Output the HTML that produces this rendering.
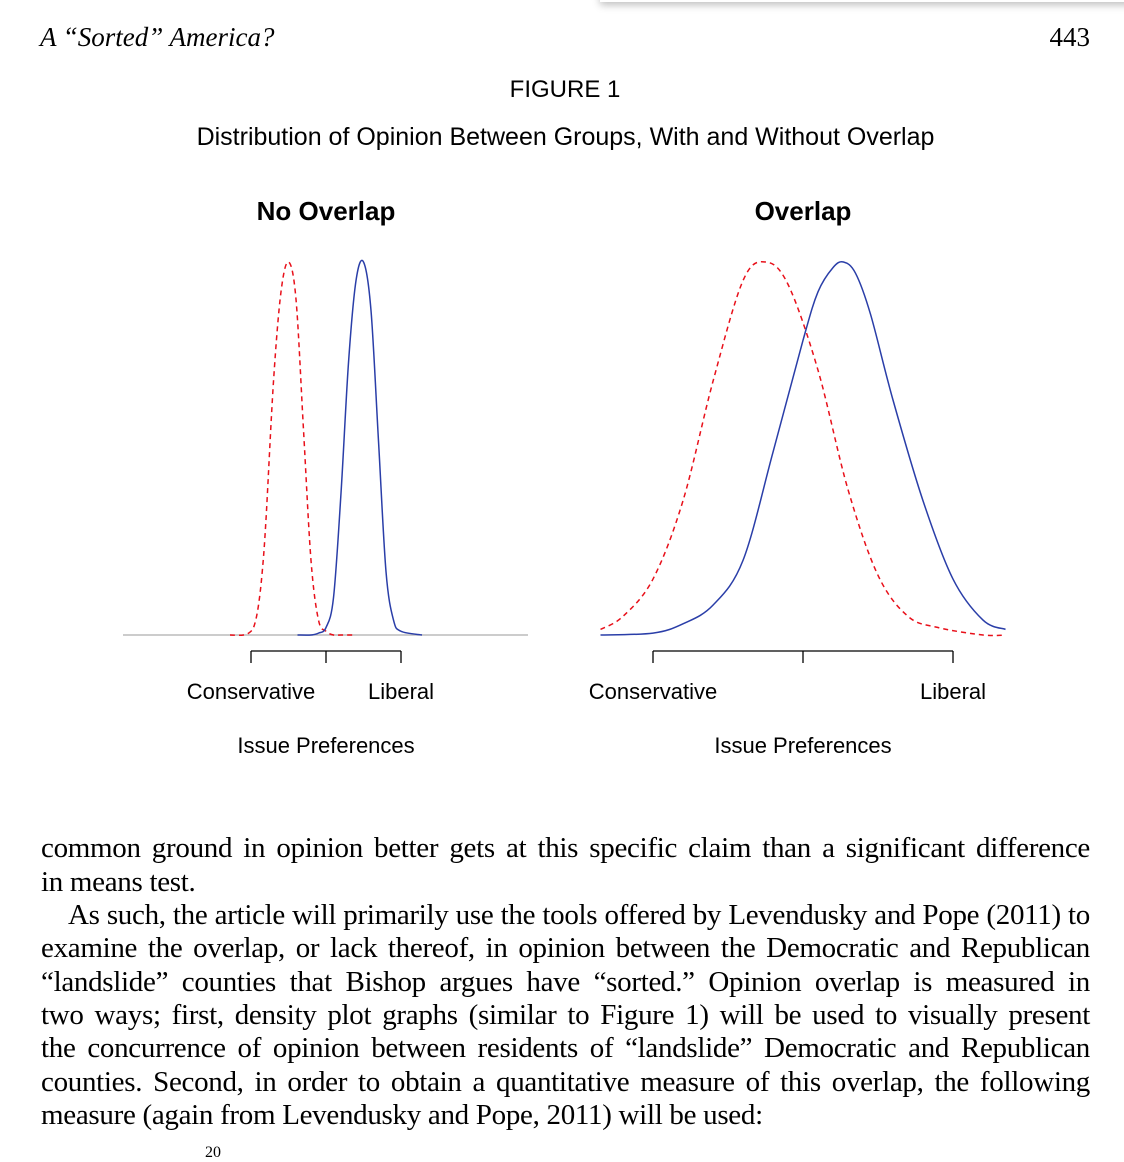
<!DOCTYPE html>
<html><head><meta charset="utf-8"><style>
body{margin:0;width:1124px;height:1154px;background:#fff;position:relative;overflow:hidden;font-family:"Liberation Sans",sans-serif;color:#000}
.a{position:absolute;white-space:nowrap}
.ln{position:absolute;left:41px;width:1049px;font-family:"Liberation Serif",serif;font-size:29px;line-height:33px;text-align:justify;text-align-last:justify;white-space:nowrap;letter-spacing:-0.3px}
.shadow{position:absolute;left:600px;top:-10px;width:540px;height:12px;box-shadow:0 3px 8px rgba(0,0,0,0.25);background:#fff}
</style></head><body>
<div class="shadow"></div>
<div class="a" style="left:40px;top:22px;font-family:'Liberation Serif',serif;font-style:italic;font-size:27px">A “Sorted” America?</div>
<div class="a" style="right:34px;top:22px;font-family:'Liberation Serif',serif;font-size:27px">443</div>
<div class="a" style="left:0;width:1130px;text-align:center;top:76px;font-size:24px">FIGURE 1</div>
<div class="a" style="left:0;width:1131px;text-align:center;top:123px;font-size:25px">Distribution of Opinion Between Groups, With and Without Overlap</div>

<svg id="chart" width="1124" height="780" style="position:absolute;left:0;top:0">
<text x="326" y="220" text-anchor="middle" font-weight="bold" font-size="26">No Overlap</text>
<text x="803" y="220" text-anchor="middle" font-weight="bold" font-size="26">Overlap</text>
<line x1="123" y1="635" x2="528" y2="635" stroke="#bbb" stroke-width="1.5"/>
<g id="plots"></g>
</svg>

<div class="ln" style="top:832px">common ground in opinion better gets at this specific claim than a significant difference</div>
<div class="ln" style="top:866px;text-align-last:left">in means test.</div>
<div class="ln" style="top:899px;left:68px;width:1022px">As such, the article will primarily use the tools offered by Levendusky and Pope (2011) to</div>
<div class="ln" style="top:932px">examine the overlap, or lack thereof, in opinion between the Democratic and Republican</div>
<div class="ln" style="top:966px">“landslide” counties that Bishop argues have “sorted.” Opinion overlap is measured in</div>
<div class="ln" style="top:999px">two ways; first, density plot graphs (similar to Figure 1) will be used to visually present</div>
<div class="ln" style="top:1032px">the concurrence of opinion between residents of “landslide” Democratic and Republican</div>
<div class="ln" style="top:1066px">counties. Second, in order to obtain a quantitative measure of this overlap, the following</div>
<div class="ln" style="top:1099px;text-align-last:left">measure (again from Levendusky and Pope, 2011) will be used:</div>
<div class="a" style="left:205px;top:1144px;font-family:'Liberation Serif',serif;font-size:16px">20</div>

<script>
// Left panel (No Overlap): x in issue units (-1 = Conservative, 1 = Liberal)
const leftRedX = [-1.28,-1.1,-1.0,-0.95,-0.9,-0.85,-0.8,-0.7,-0.6,-0.5,-0.4,-0.3,-0.2,-0.1,0.0,0.1,0.2,0.35];
const leftRedY = [0.0,0.0,0.01,0.03,0.08,0.17,0.31,0.68,0.92,1.0,0.9,0.55,0.2,0.04,0.01,0.0,0.0,0.0];
const leftBlueX = [-0.38,-0.2,-0.1,0.0,0.1,0.2,0.3,0.4,0.5,0.6,0.7,0.8,0.9,1.0,1.28];
const leftBlueY = [0.0,0.0,0.005,0.02,0.1,0.38,0.73,0.95,1.0,0.87,0.52,0.17,0.04,0.01,0.0];
// Right panel (Overlap)
const rightRedX = [-1.35,-1.2,-1.0,-0.8,-0.6,-0.4,-0.25,-0.1,0.1,0.3,0.5,0.7,0.9,1.2,1.35];
const rightRedY = [0.015,0.05,0.15,0.36,0.68,0.95,1.0,0.94,0.71,0.39,0.16,0.05,0.02,0.0,0.0];
const rightBlueX = [-1.35,-1.0,-0.8,-0.6,-0.4,-0.2,0.0,0.1,0.2,0.27,0.35,0.45,0.6,0.8,1.0,1.2,1.35];
const rightBlueY = [0.0,0.005,0.03,0.08,0.2,0.49,0.79,0.92,0.985,1.0,0.97,0.86,0.63,0.36,0.15,0.04,0.015];
const tickVals = [-1,0,1];
const tickLabels = ["Conservative","","Liberal"];
const axisTitle = "Issue Preferences";

const NS="http://www.w3.org/2000/svg";
const g=document.getElementById('plots');
function mk(tag,attrs){const e=document.createElementNS(NS,tag);for(const k in attrs)e.setAttribute(k,attrs[k]);g.appendChild(e);return e;}
function panel(cx,scale,red,blue,nm){
  const sx=v=>cx+v*scale, sy=v=>635-v*373;
  function path(X,Y){let p=X.map((x,i)=>[sx(x),sy(Y[i])]);
    let d="M"+p[0][0]+","+p[0][1];
    for(let i=0;i<p.length-1;i++){const p0=p[i-1]||p[i],p1=p[i],p2=p[i+1],p3=p[i+2]||p2;
      d+=` C${p1[0]+(p2[0]-p0[0])/6},${p1[1]+(p2[1]-p0[1])/6} ${p2[0]-(p3[0]-p1[0])/6},${p2[1]-(p3[1]-p1[1])/6} ${p2[0]},${p2[1]}`;}
    return d;}
  const r=mk('path',{d:path(red[0],red[1]),fill:'none',stroke:'#e8101a','stroke-width':1.5,'stroke-dasharray':'5,4'});
  
  
  const b=mk('path',{d:path(blue[0],blue[1]),fill:'none',stroke:'#2a3ea8','stroke-width':1.5});
  
  
  const ax=mk('line',{x1:sx(tickVals[0]),x2:sx(tickVals[tickVals.length-1]),y1:651,y2:651,stroke:'#000','stroke-width':1.3});
  
  
  tickVals.forEach((v,i)=>{
    const t=mk('line',{x1:sx(v),x2:sx(v),y1:651,y2:663,stroke:'#000','stroke-width':1.3});
    
    
    if(tickLabels[i]){const l=mk('text',{x:sx(v),y:699,'text-anchor':'middle','font-size':22});l.textContent=tickLabels[i];
      
      }
  });
  const at=mk('text',{x:cx,y:753,'text-anchor':'middle','font-size':22});at.textContent=axisTitle;
  
  
}
panel(326,75,[leftRedX,leftRedY],[leftBlueX,leftBlueY],'no-overlap');
panel(803,150,[rightRedX,rightRedY],[rightBlueX,rightBlueY],'overlap');
</script>
</body></html>
